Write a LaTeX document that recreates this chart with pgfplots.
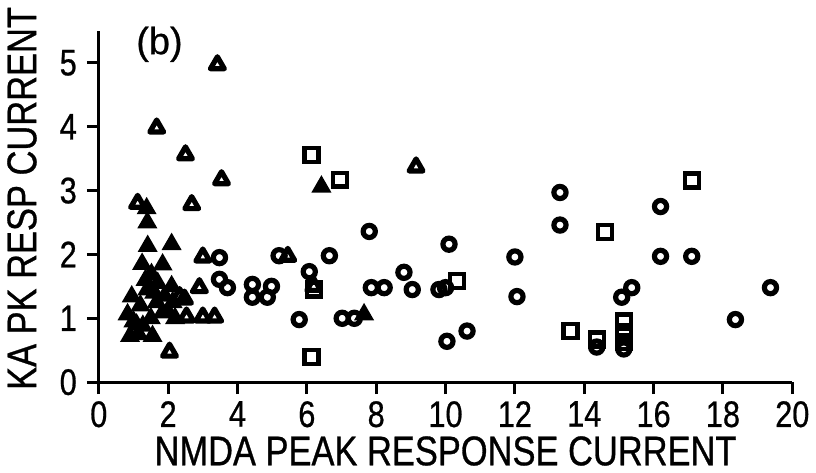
\documentclass[border=0pt]{standalone}
\usepackage{pgfplots}
\pgfplotsset{compat=1.18}
\usepackage{fontspec}
\setmainfont[FakeStretch=0.83, FakeBold=0.7]{Liberation Sans}
\newfontfamily\bfont[FakeBold=0.7]{Liberation Sans}
\begin{document}
\begin{tikzpicture}
\begin{axis}[
  x=17.375pt, y=32pt,
  xmin=0, xmax=20, ymin=0, ymax=5.5,
  axis lines=left,
  axis line style={-, line width=1.6pt},
  xtick={0,2,...,20}, ytick={0,1,2,3,4,5},
  tick align=outside,
  major tick length=6pt,
  every tick/.style={black, line width=1.5pt},
  /pgf/number format/assume math mode=true,
  tick label style={font=\fontsize{18.5}{18.5}\selectfont},
  yticklabel style={xshift=-1.5pt},
  xlabel={NMDA PEAK RESPONSE CURRENT},
  ylabel={KA PK RESP CURRENT},
  label style={font=\fontsize{20.8}{21}\selectfont},
  xlabel style={at={(axis description cs:0.5,-0.196)}, anchor=center},
  ylabel style={at={(axis description cs:-0.1108,0.523)}, anchor=center},
  clip=false,
]
% open circles
\addplot[only marks, mark=o, mark size=3.05pt, line width=2.6pt] coordinates {
(3.48,1.95) (3.48,1.61) (3.71,1.48) (4.43,1.53) (4.98,1.5) (4.43,1.33) (4.86,1.33)
(5.2,1.98) (6.65,1.98) (6.07,1.73) (5.78,0.98) (7.02,1.0) (7.37,1.0) (7.8,2.36)
(7.86,1.48) (8.23,1.48) (8.8,1.72) (9.04,1.45) (9.81,1.45) (10.0,1.48) (10.1,2.16)
(10.04,0.64) (10.62,0.8) (12.0,1.96) (12.06,1.34) (13.3,2.97) (13.3,2.46)
(14.36,0.55) (15.08,1.33) (15.37,1.48) (15.14,0.52) (16.2,2.75) (16.2,1.97)
(17.1,1.97) (18.36,0.98) (19.37,1.48)
};
% open squares
\addplot[only marks, mark=square, mark size=3.5pt, line width=2.2pt] coordinates {
(6.13,3.56) (6.96,3.17) (6.13,0.39) (10.33,1.58) (14.6,2.35) (13.6,0.8)
(14.36,0.67) (15.14,0.95) (15.14,0.78) (15.14,0.63) (17.1,3.16) (6.2,1.45)
};
% open triangles
\addplot[only marks, mark=triangle, mark size=4pt, line width=2.6pt, mark options={line join=round}] coordinates {
(3.42,4.97) (1.67,3.98) (2.5,3.56) (3.54,3.17) (1.12,2.8) (2.68,2.78) (9.15,3.37)
(3.0,1.96) (5.45,1.97) (2.9,1.48) (2.33,1.34) (2.47,1.3) (2.53,1.02) (3.0,1.02)
(3.34,1.02) (2.04,0.47) (6.2,1.5)
};
% filled triangles
\addplot[only marks, mark=triangle*, mark size=5pt, line width=0.8pt, mark options={fill=black, draw=black}] coordinates {
(1.38,2.72) (1.4,2.5) (1.41,2.13) (2.1,2.16) (1.84,1.84) (1.52,1.69) (1.35,1.6)
(2.1,1.5) (0.95,1.34) (1.4,1.45) (1.67,1.25) (2.13,1.25) (1.84,1.09) (0.83,1.06)
(1.09,0.9) (1.27,0.88) (0.9,0.72) (1.55,0.72) (1.0,0.95) (1.6,1.4) (1.9,1.35)
(2.0,1.1) (1.2,1.2) (1.5,1.0) (1.7,1.55) (1.25,1.85) (2.2,1.0) (1.15,0.75)
(6.42,3.06) (7.65,1.06)
};
\node[font=\bfont\fontsize{19}{19}\selectfont] at (axis cs:1.75,5.29) {(b)};
\path (axis cs:-2.849,5.984) rectangle (axis cs:20.633,-1.422);
\end{axis}
\end{tikzpicture}
\end{document}
